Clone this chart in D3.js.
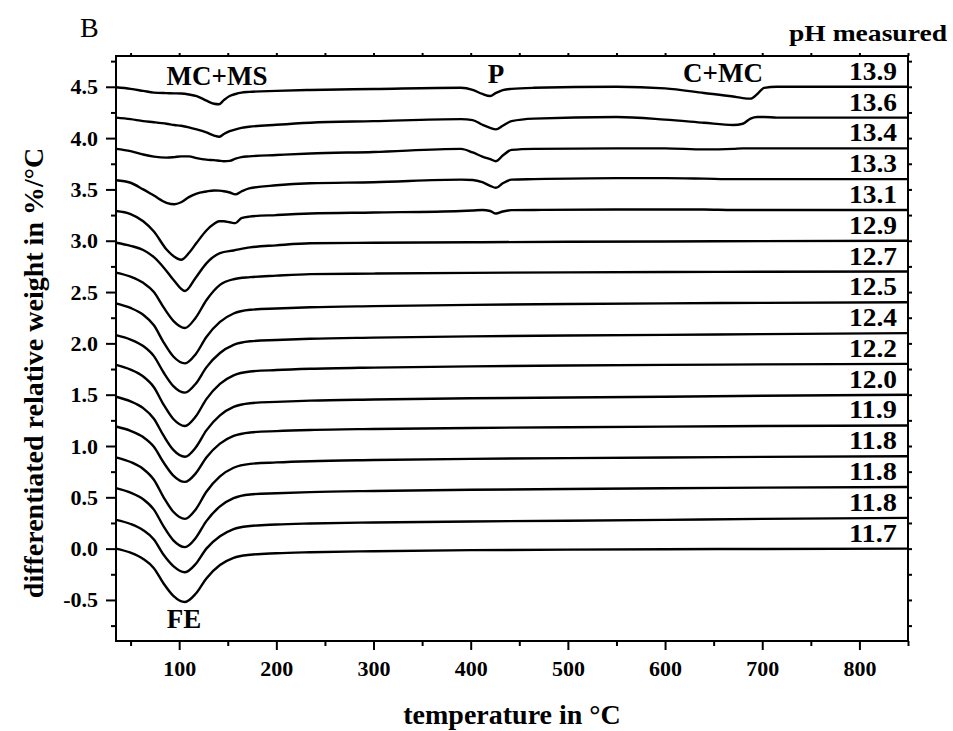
<!DOCTYPE html>
<html>
<head>
<meta charset="utf-8">
<script src="https://cdnjs.cloudflare.com/ajax/libs/d3/7.8.5/d3.min.js"></script>
<style>
  body { margin: 0; background: #fff; }
</style>
</head>
<body>
<div id="chart"></div>
<script>
// temperature grids (°C)
var tempLow = [35, 50, 63, 74, 84, 94, 106, 117, 128, 142, 156, 173, 200, 235, 300, 400, 500, 600, 700, 850];
var tempHigh = [35, 50, 63, 74, 87, 95, 102, 110, 118, 128, 136, 141, 146, 152, 158, 164, 172, 200, 235, 300,
                390, 402, 412, 420, 426, 433, 442, 465, 550, 600, 640, 670, 680, 688, 695, 702, 715, 780, 850];

// DTG curves, stacked, bottom to top
var ph117  = [0.00, -0.04, -0.10, -0.19, -0.34, -0.46, -0.52, -0.44, -0.29, -0.16, -0.09, -0.06, -0.045, -0.035, -0.025, -0.015, -0.01, -0.006, -0.003, 0.00];
var ph118a = [0.28, 0.24, 0.18, 0.09, -0.06, -0.17, -0.23, -0.15, 0.00, 0.12, 0.19, 0.22, 0.235, 0.245, 0.255, 0.265, 0.272, 0.28, 0.29, 0.30];
var ph118b = [0.59, 0.546, 0.481, 0.38, 0.216, 0.081, 0.015, 0.104, 0.268, 0.412, 0.492, 0.528, 0.54, 0.551, 0.562, 0.573, 0.581, 0.588, 0.594, 0.60];
var ph118c = [0.89, 0.844, 0.776, 0.671, 0.50, 0.359, 0.29, 0.382, 0.554, 0.704, 0.788, 0.826, 0.84, 0.852, 0.863, 0.875, 0.882, 0.888, 0.894, 0.90];
var ph119  = [1.19, 1.148, 1.087, 0.993, 0.839, 0.712, 0.65, 0.733, 0.888, 1.023, 1.098, 1.132, 1.145, 1.156, 1.166, 1.176, 1.183, 1.189, 1.195, 1.20];
var ph120  = [1.48, 1.435, 1.369, 1.266, 1.10, 0.962, 0.895, 0.985, 1.152, 1.299, 1.381, 1.417, 1.43, 1.442, 1.453, 1.465, 1.473, 1.48, 1.49, 1.50];
var ph122  = [1.79, 1.744, 1.677, 1.573, 1.403, 1.263, 1.195, 1.287, 1.457, 1.606, 1.689, 1.726, 1.74, 1.752, 1.764, 1.776, 1.784, 1.79, 1.795, 1.80];
var ph124  = [2.08, 2.037, 1.974, 1.876, 1.716, 1.584, 1.52, 1.606, 1.766, 1.906, 1.985, 2.02, 2.033, 2.045, 2.056, 2.068, 2.076, 2.083, 2.09, 2.10];
var ph125  = [2.39, 2.345, 2.279, 2.176, 2.01, 1.872, 1.805, 1.895, 2.062, 2.209, 2.291, 2.327, 2.34, 2.352, 2.363, 2.375, 2.383, 2.39, 2.395, 2.40];
var ph127  = [2.69, 2.65, 2.59, 2.50, 2.35, 2.22, 2.15, 2.25, 2.42, 2.57, 2.625, 2.645, 2.66, 2.675, 2.68, 2.687, 2.692, 2.695, 2.698, 2.70];
var ph129  = [2.98, 2.95, 2.91, 2.84, 2.74, 2.62, 2.51, 2.64, 2.78, 2.88, 2.905, 2.935, 2.955, 2.975, 2.98, 2.985, 2.99, 2.993, 2.996, 3.00];
var ph131  = [3.29, 3.26, 3.19, 3.09, 2.915, 2.845, 2.815, 2.88, 2.98, 3.10, 3.165, 3.19, 3.19, 3.18, 3.172, 3.22, 3.235, 3.25, 3.265, 3.275,
              3.29, 3.295, 3.30, 3.29, 3.265, 3.285, 3.298, 3.30, 3.305, 3.305, 3.305, 3.30, 3.30, 3.30, 3.30, 3.30, 3.30, 3.30, 3.30];
var ph133  = [3.59, 3.565, 3.50, 3.44, 3.37, 3.355, 3.375, 3.425, 3.46, 3.48, 3.49, 3.488, 3.482, 3.47, 3.452, 3.48, 3.51, 3.54, 3.56, 3.57,
              3.595, 3.592, 3.57, 3.535, 3.516, 3.56, 3.595, 3.60, 3.61, 3.61, 3.605, 3.60, 3.60, 3.60, 3.60, 3.60, 3.60, 3.60, 3.60];
var ph134  = [3.895, 3.873, 3.84, 3.82, 3.81, 3.815, 3.822, 3.822, 3.805, 3.79, 3.785, 3.78, 3.775, 3.778, 3.80, 3.815, 3.822, 3.835, 3.85, 3.865,
              3.895, 3.86, 3.82, 3.795, 3.775, 3.83, 3.885, 3.895, 3.90, 3.90, 3.89, 3.895, 3.90, 3.90, 3.90, 3.90, 3.90, 3.90, 3.90];
var ph136  = [4.20, 4.185, 4.166, 4.155, 4.14, 4.128, 4.12, 4.105, 4.085, 4.055, 4.025, 4.013, 4.04, 4.068, 4.085, 4.10, 4.11, 4.13, 4.15, 4.165,
              4.185, 4.175, 4.13, 4.10, 4.085, 4.12, 4.165, 4.19, 4.205, 4.18, 4.15, 4.128, 4.14, 4.19, 4.205, 4.205, 4.20, 4.20, 4.20];
var ph139  = [4.495, 4.48, 4.46, 4.443, 4.438, 4.436, 4.434, 4.425, 4.41, 4.365, 4.335, 4.33, 4.37, 4.41, 4.43, 4.443, 4.45, 4.46, 4.469, 4.478,
              4.49, 4.47, 4.43, 4.41, 4.44, 4.468, 4.48, 4.49, 4.50, 4.485, 4.44, 4.405, 4.39, 4.385, 4.43, 4.49, 4.50, 4.50, 4.50];

var phLabels = ["11.7", "11.8", "11.8", "11.8", "11.9", "12.0", "12.2", "12.4", "12.5", "12.7", "12.9", "13.1", "13.3", "13.4", "13.6", "13.9"];
var xMajor = [100, 200, 300, 400, 500, 600, 700, 800];
var xMinor = [50, 150, 250, 350, 450, 550, 650, 750, 850];
var yMajor = [-0.5, 0.0, 0.5, 1.0, 1.5, 2.0, 2.5, 3.0, 3.5, 4.0, 4.5];
var yMinor = [-0.75, -0.25, 0.25, 0.75, 1.25, 1.75, 2.25, 2.75, 3.25, 3.75, 4.25, 4.75];

var curves = [ph117, ph118a, ph118b, ph118c, ph119, ph120, ph122, ph124, ph125, ph127, ph129].map(function (v) {
  return tempLow.map(function (t, i) { return [t, v[i]]; });
}).concat([ph131, ph133, ph134, ph136, ph139].map(function (v) {
  return tempHigh.map(function (t, i) { return [t, v[i]]; });
}));

var FONT = "'Liberation Serif', 'DejaVu Serif', serif";
var W = 953, H = 731;
var L = 116, R = 908, T = 56, B = 641;

var svg = d3.select("#chart").append("svg").attr("width", W).attr("height", H)
  .style("font-family", FONT);

var x = d3.scaleLinear().domain([35, 850]).range([L, R]);
var y = d3.scaleLinear().domain([-0.9, 4.8]).range([B, T]);

var fmt = function (d) { return d.toFixed(1); };

// axes: majors with labels, minors without
function styleAxis(g) {
  g.attr("font-family", FONT);
  g.selectAll("path").remove();
  g.selectAll("line").attr("stroke", "#000").attr("stroke-width", 2);
  g.selectAll("text").style("font-family", FONT).style("font-weight", "bold").style("font-size", "22px").attr("fill", "#000");
}

svg.append("g").attr("transform", "translate(0," + B + ")")
  .call(d3.axisBottom(x).tickValues(xMajor).tickSize(9).tickPadding(10).tickFormat(d3.format("d")))
  .call(styleAxis);
svg.append("g").attr("transform", "translate(0," + B + ")")
  .call(d3.axisBottom(x).tickValues(xMinor).tickSize(5).tickFormat(""))
  .call(styleAxis);
svg.append("g").attr("transform", "translate(" + L + ",0)")
  .call(d3.axisLeft(y).tickValues(yMajor).tickSize(10).tickPadding(8).tickFormat(fmt))
  .call(styleAxis);
svg.append("g").attr("transform", "translate(" + L + ",0)")
  .call(d3.axisLeft(y).tickValues(yMinor).tickSize(5).tickFormat(""))
  .call(styleAxis);
// top and right mirror ticks
svg.append("g").attr("transform", "translate(0," + T + ")")
  .call(d3.axisTop(x).tickValues(xMajor.concat(xMinor)).tickSize(3).tickFormat(""))
  .call(styleAxis);
svg.append("g").attr("transform", "translate(" + R + ",0)")
  .call(d3.axisRight(y).tickValues(yMajor.concat(yMinor)).tickSize(4).tickFormat(""))
  .call(styleAxis);

svg.append("rect").attr("x", L).attr("y", T).attr("width", R - L).attr("height", B - T)
  .attr("fill", "none").attr("stroke", "#000").attr("stroke-width", 2);

var line = d3.line()
  .x(function (d) { return x(d[0]); })
  .y(function (d) { return y(d[1]); })
  .curve(d3.curveMonotoneX);

svg.append("g").selectAll("path").data(curves).join("path")
  .attr("d", line)
  .attr("fill", "none")
  .attr("stroke", "#000")
  .attr("stroke-width", 2.4);

// pH labels sit on the right end of each curve
svg.append("g").selectAll("text").data(curves).join("text")
  .attr("x", 897)
  .attr("y", function (d) { return y(d[d.length - 1][1]) - 7; })
  .attr("text-anchor", "end")
  .attr("textLength", 48).attr("lengthAdjust", "spacingAndGlyphs")
  .style("font-family", FONT).style("font-weight", "bold").style("font-size", "25px")
  .text(function (d, i) { return phLabels[i]; });

svg.append("text").attr("x", 947).attr("y", 41).attr("text-anchor", "end")
  .attr("textLength", 158).attr("lengthAdjust", "spacingAndGlyphs")
  .style("font-family", FONT).style("font-weight", "bold").style("font-size", "24px").text("pH measured");

// peak annotations
var notes = [["MC+MS", 217, 85], ["P", 496, 83], ["C+MC", 723, 82], ["FE", 184, 628]];
svg.append("g").selectAll("text").data(notes).join("text")
  .attr("x", function (d) { return d[1]; })
  .attr("y", function (d) { return d[2]; })
  .attr("text-anchor", "middle")
  .style("font-family", FONT).style("font-weight", "bold").style("font-size", "27px")
  .text(function (d) { return d[0]; });

svg.append("text").attr("x", 80).attr("y", 37).style("font-family", FONT).style("font-size", "28px").text("B");

svg.append("text").attr("x", 512).attr("y", 724).attr("text-anchor", "middle")
  .style("font-family", FONT).style("font-weight", "bold").style("font-size", "28px").text("temperature in °C");

svg.append("text").attr("transform", "translate(43,373) rotate(-90)").attr("text-anchor", "middle")
  .style("font-family", FONT).style("font-weight", "bold").style("font-size", "28px").text("differentiated relative weight in %/°C");
</script>
</body>
</html>
